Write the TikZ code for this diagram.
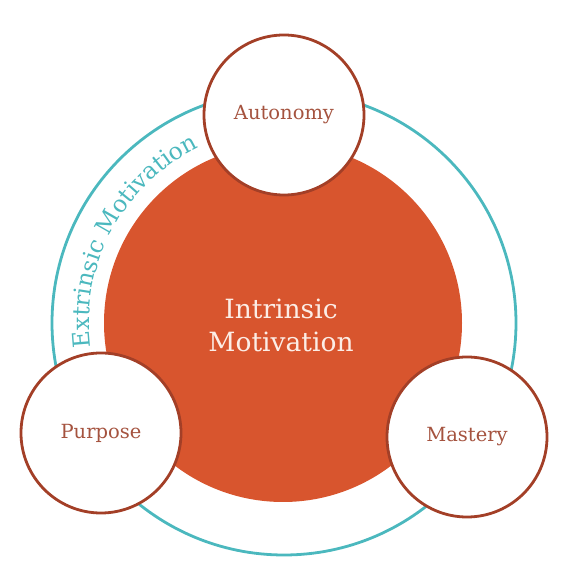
\documentclass[tikz,border=0pt]{standalone}
\usepackage{fontspec}
\setmainfont{DejaVu Serif}
\usetikzlibrary{decorations.text}
\definecolor{orng}{HTML}{D8552E}
\definecolor{rim}{HTML}{A33F27}
\definecolor{tealring}{HTML}{4BB8BE}
\definecolor{lbl}{HTML}{A5533F}
\definecolor{cream}{HTML}{FCEDE6}
\begin{document}
\begin{tikzpicture}[x=1pt,y=1pt,
  ring/.style={circle, draw=tealring, line width=2.8pt, minimum size=464pt, inner sep=0pt},
  core/.style={circle, fill=orng, minimum size=358pt, inner sep=0pt},
  pillar/.style={circle, draw=rim, fill=white, line width=2.8pt, minimum size=160pt, inner sep=0pt,
    text=lbl, font=\fontsize{19.5}{23}\selectfont},
  coretext/.style={text=cream, font=\fontsize{26.5}{30}\selectfont, anchor=base, inner sep=0pt}]
\useasboundingbox (0,0) rectangle (576,584);
\node[ring] (outer) at (284,261) {};
\node[core] (inner) at (283,261) {};
\coordinate (c) at (284,261);
\path[decorate, decoration={text along path, text align=center,
   text={|\fontsize{23.5}{27}\selectfont\color{tealring}|Extrinsic Motivation}}]
   ([shift={(c)}]201.5:195) arc[start angle=201.5, end angle=101.5, radius=195];
\node[pillar] (autonomy) at (284,469) {Autonomy};
\node[pillar] (purpose) at (101,151) {Purpose};
\node[pillar] (mastery) at (467,147) {Mastery};
\node[coretext] (l1) at (281,265) {Intrinsic};
\node[coretext] (l2) at (281,232) {Motivation};
\end{tikzpicture}
\end{document}
